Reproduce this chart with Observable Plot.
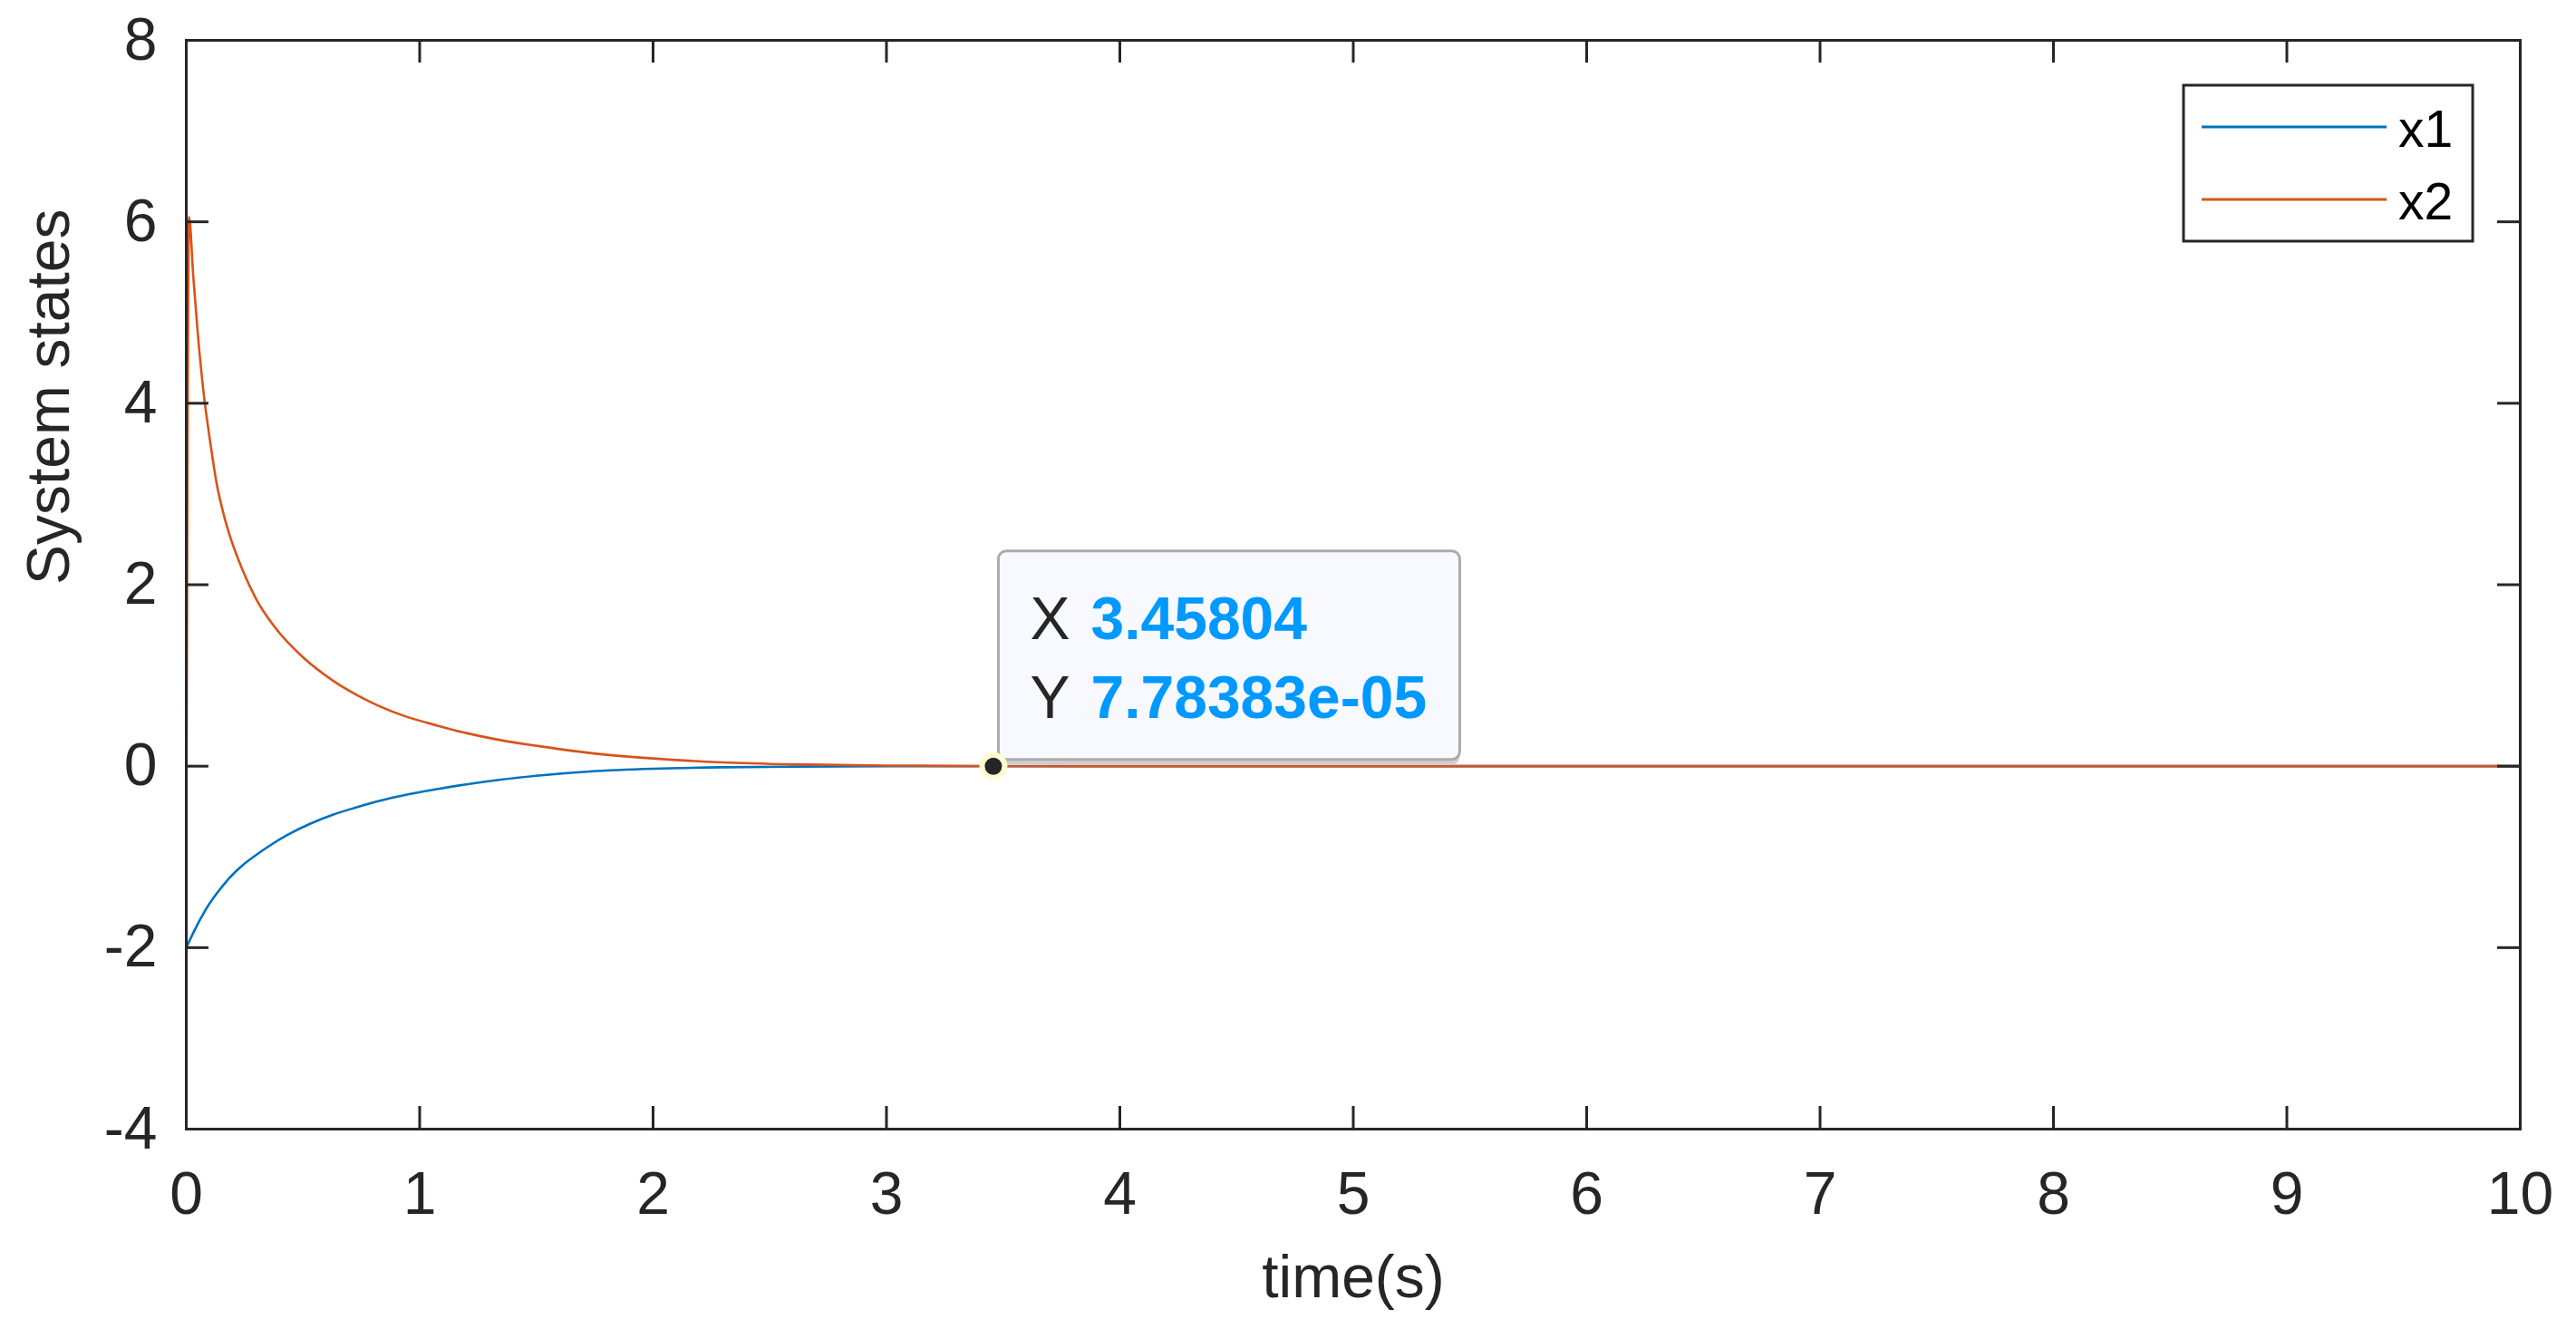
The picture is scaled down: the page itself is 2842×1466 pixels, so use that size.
<!DOCTYPE html>
<html><head><meta charset="utf-8">
<script src="https://cdn.jsdelivr.net/npm/d3@7"></script>
<script src="https://cdn.jsdelivr.net/npm/@observablehq/plot@0.6"></script>
<style>
html,body{margin:0;padding:0;background:#fff;}
#chart{width:2842px;height:1466px;}
</style></head><body><div id="chart"></div>
<script>
// ---- data ----
const x1Time = [0, 0.02, 0.045, 0.07, 0.097, 0.13, 0.175, 0.24, 0.304, 0.37, 0.434, 0.53, 0.628, 0.72, 0.822, 0.95, 1.08, 1.2, 1.34, 1.5, 1.73, 2.0, 2.3, 2.6, 3.0, 3.5, 4, 10];
const x1 = [-2.0, -1.89, -1.76, -1.64, -1.525, -1.405, -1.26, -1.095, -0.97, -0.855, -0.757, -0.635, -0.535, -0.46, -0.385, -0.31, -0.25, -0.20, -0.15, -0.105, -0.058, -0.028, -0.012, -0.005, -0.0015, -0.0003, 0, 0];
const x2Time = [0, 0.012, 0.03, 0.05, 0.075, 0.1, 0.13, 0.168, 0.24, 0.3, 0.38, 0.5, 0.63, 0.76, 0.82, 0.95, 1.08, 1.2, 1.34, 1.5, 1.73, 2.0, 2.3, 2.6, 3.0, 3.5, 4, 10];
const x2 = [-1.0, 6.05, 5.4, 4.75, 4.1, 3.62, 3.12, 2.70, 2.17, 1.84, 1.53, 1.2, 0.94, 0.745, 0.67, 0.54, 0.445, 0.365, 0.29, 0.225, 0.145, 0.085, 0.042, 0.02, 0.007, 0.002, 0, 0];
const seriesNames = ["x1", "x2"];
const seriesColors = ["#0072BD", "#D95319"];
const xTicks = [0, 1, 2, 3, 4, 5, 6, 7, 8, 9, 10];
const yTicks = [-4, -2, 0, 2, 4, 6, 8];
const xLabel = "time(s)";
const yLabel = "System states";
const tipX = 3.45804;
const tipY = 7.78383e-05;
const tipNames = ["X", "Y"];
const tipTexts = ["3.45804", "7.78383e-05"];

// ---- layout ----
const W = 2842, H = 1466;
const mL = 205, mR = 62, mT = 44, mB = 221;
const fw = W - mL - mR, fh = H - mT - mB;
const tickLen = 25;
const font = "'Liberation Sans', Arial, Helvetica, sans-serif";
const ink = "#262626";

const s1 = x1Time.map((t, i) => ({t, v: x1[i]}));
const s2 = x2Time.map((t, i) => ({t, v: x2[i]}));

const plot = Plot.plot({
  width: W, height: H,
  marginLeft: mL, marginRight: mR, marginTop: mT, marginBottom: mB,
  x: {domain: [0, 10]},
  y: {domain: [-4, 8]},
  style: {fontFamily: font, background: "#fff", color: ink, overflow: "visible"},
  marks: [
    Plot.line(s1, {x: "t", y: "v", stroke: seriesColors[0], strokeWidth: 2.6, curve: "monotone-x"}),
    Plot.line(s2, {x: "t", y: "v", stroke: seriesColors[1], strokeWidth: 2.6, curve: "monotone-x"}),
    Plot.frame({stroke: ink, strokeWidth: 3}),
    Plot.tickX(xTicks, {x: d => d, stroke: ink, strokeWidth: 3, insetTop: fh - tickLen}),
    Plot.tickX(xTicks, {x: d => d, stroke: ink, strokeWidth: 3, insetBottom: fh - tickLen}),
    Plot.tickY(yTicks, {y: d => d, stroke: ink, strokeWidth: 3, insetRight: fw - tickLen}),
    Plot.tickY(yTicks, {y: d => d, stroke: ink, strokeWidth: 3, insetLeft: fw - tickLen}),
    Plot.axisX(xTicks, {tickSize: 0, tickPadding: 47, fontSize: 66, label: null, tickFormat: d => String(d)}),
    Plot.axisY(yTicks, {tickSize: 0, tickPadding: 32, fontSize: 66, label: null, tickFormat: d => String(d)}),
    Plot.text([xLabel], {frameAnchor: "bottom", dy: 185, lineAnchor: "bottom", fontSize: 66, fill: ink}),
    Plot.text([yLabel], {frameAnchor: "left", dx: -130, rotate: -90, lineAnchor: "bottom", fontSize: 66, fill: ink}),
    Plot.dot([{x: tipX, y: tipY}], {x: "x", y: "y", r: 12.5, fill: ink, stroke: "#fffbd2", strokeWidth: 6})
  ]
});

const svg = d3.select(plot);

// ---- data tip box ----
const px = plot.scale("x").apply(tipX), py = plot.scale("y").apply(tipY);
const tg = svg.append("g").attr("font-family", font).attr("text-anchor", "start");
const bx = px + 6, bw = 509, bh = 230, by = py - 7 - bh;
tg.append("rect").attr("x", bx).attr("y", by + 6).attr("width", bw).attr("height", bh)
  .attr("rx", 9).attr("fill", "#cfcfcf");
tg.append("rect").attr("x", bx).attr("y", by).attr("width", bw).attr("height", bh)
  .attr("rx", 9).attr("fill", "#f8f9fe").attr("stroke", "#ababab").attr("stroke-width", 3);
tipNames.forEach((n, i) => {
  const base = by + 97 + i * 87;
  tg.append("text").attr("x", bx + 35).attr("y", base).attr("font-size", 66).attr("fill", ink).text(n);
  tg.append("text").attr("x", bx + 102).attr("y", base).attr("font-size", 66).attr("font-weight", "bold")
    .attr("fill", "#0099ff").text(tipTexts[i]);
});
// keep the data-tip marker above its box
svg.node().appendChild(svg.select("g[aria-label='dot']").node());

// ---- legend ----
const lg = svg.append("g").attr("font-family", font).attr("text-anchor", "start");
const lx = W - mR - 52 - 319, ly = mT + 50;
lg.append("rect").attr("x", lx).attr("y", ly).attr("width", 319).attr("height", 172)
  .attr("fill", "#fff").attr("stroke", ink).attr("stroke-width", 3);
seriesNames.forEach((n, i) => {
  const yy = ly + 46 + i * 80;
  lg.append("line").attr("x1", lx + 20).attr("x2", lx + 224).attr("y1", yy).attr("y2", yy)
    .attr("stroke", seriesColors[i]).attr("stroke-width", 3);
  lg.append("text").attr("x", lx + 237).attr("y", yy + 22).attr("font-size", 57).attr("fill", "#000").text(n);
});

document.getElementById("chart").appendChild(plot);
</script></body></html>
